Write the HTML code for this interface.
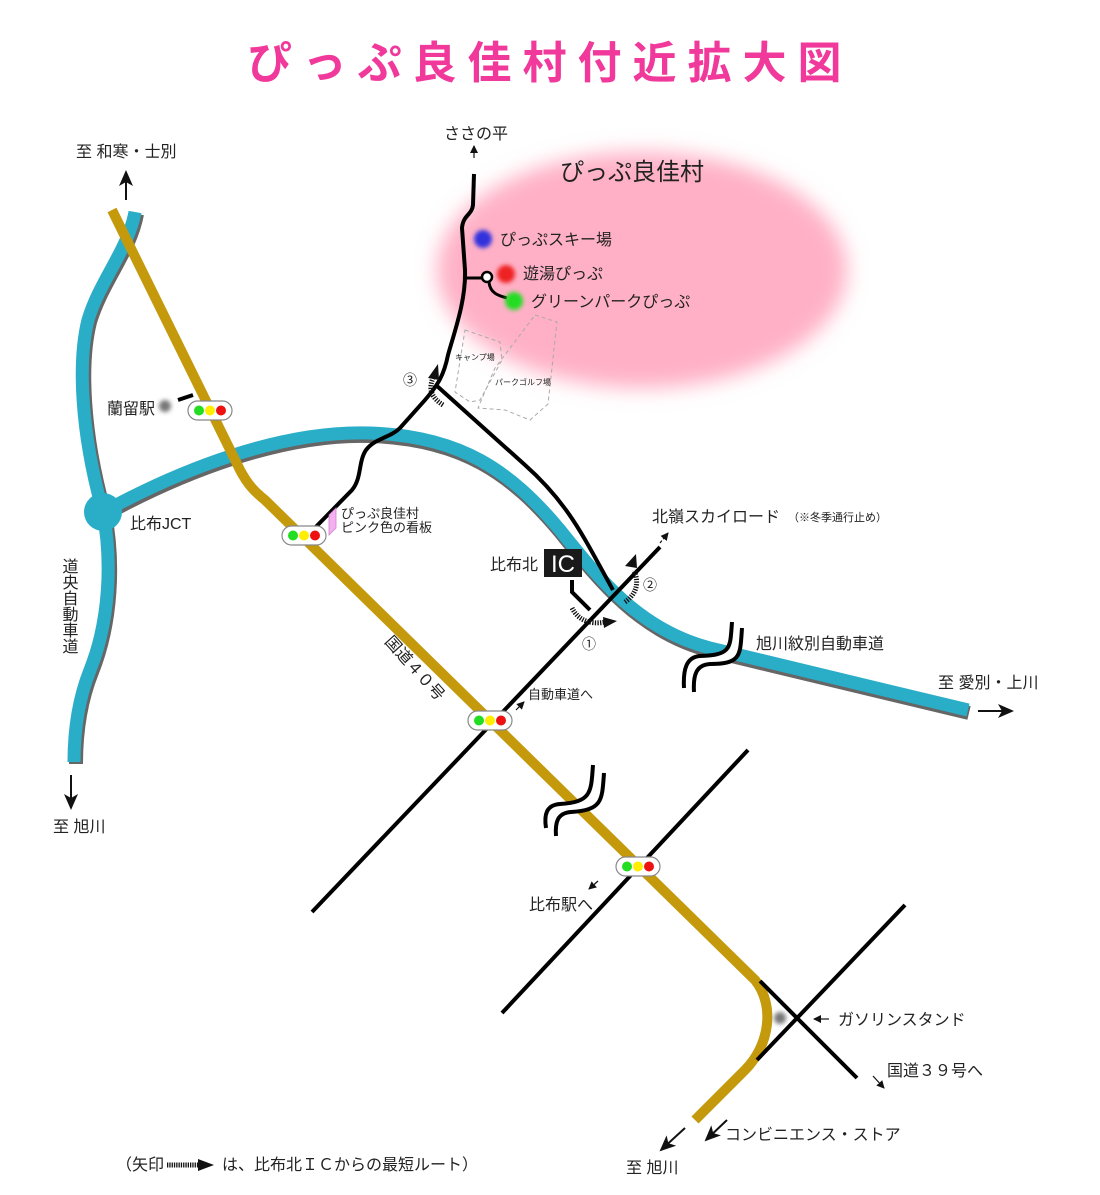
<!DOCTYPE html>
<html><head><meta charset="utf-8"><style>
html,body{margin:0;padding:0;background:#fff}
svg{display:block}
text{font-family:"Liberation Sans","Noto Sans CJK JP",sans-serif;fill:#222}
</style></head><body>
<svg width="1100" height="1195" viewBox="0 0 1100 1195" xmlns="http://www.w3.org/2000/svg">
<defs>
<filter id="blur" x="-30%" y="-30%" width="160%" height="160%"><feGaussianBlur stdDeviation="10"/></filter>
<filter id="b2" x="-50%" y="-50%" width="200%" height="200%"><feGaussianBlur stdDeviation="2"/></filter>
<marker id="ah" markerWidth="8" markerHeight="8" refX="7" refY="4" orient="auto" markerUnits="userSpaceOnUse"><path d="M0,0 L8,4 L0,8 z" fill="#111"/></marker>
<marker id="ahb" markerWidth="16" markerHeight="14" refX="14" refY="7" orient="auto" markerUnits="userSpaceOnUse"><path d="M0,0 L16,7 L0,14 L4,7 z" fill="#111"/></marker>
</defs>

<!-- title -->
<text x="550" y="78" text-anchor="middle" font-size="44" font-weight="bold" letter-spacing="11" style="fill:#f0399a">ぴっぷ良佳村付近拡大図</text>

<!-- pink ellipse -->
<ellipse cx="642" cy="270" rx="205" ry="118" fill="#ffb0c6" filter="url(#blur)"/>
<text x="560" y="180" font-size="24">ぴっぷ良佳村</text>

<!-- dashed areas -->
<path d="M465,330 L500,342 L502,360 L480,400 L470,402 L455,392 Z" fill="none" stroke="#aaa" stroke-dasharray="4,3"/>
<path d="M535,315 L557,322 L548,404 L530,420 L505,410 L478,408 L495,368 Z" fill="none" stroke="#aaa" stroke-dasharray="4,3"/>
<text x="455" y="360" font-size="8">キャンプ場</text>
<text x="495" y="385" font-size="8">パークゴルフ場</text>

<!-- blue expressway shadow + line -->
<g fill="none" stroke-linecap="butt">
<path d="M135,212 C128,250 100,280 88,320 C78,360 80,430 103,512 C112,560 110,620 90,670 C78,700 74,730 74,762" stroke="#666" stroke-width="14" transform="translate(2,2)"/>
<path d="M103,512 C180,470 280,430 370,433 C460,436 510,470 560,530 C600,580 640,630 710,648 L968,710" stroke="#666" stroke-width="14" transform="translate(1,3)"/>
<path d="M135,212 C128,250 100,280 88,320 C78,360 80,430 103,512 C112,560 110,620 90,670 C78,700 74,730 74,762" stroke="#2aaec8" stroke-width="13"/>
<path d="M103,512 C180,470 280,430 370,433 C460,436 510,470 560,530 C600,580 640,630 710,648 L968,710" stroke="#2aaec8" stroke-width="13"/>
</g>
<circle cx="103" cy="512" r="19" fill="#2aaec8"/>

<!-- gold road -->
<path d="M112,210 L240,470 C248,485 255,492 265,500 L755,980 C775,1005 770,1045 745,1070 L695,1120" fill="none" stroke="#c49a0c" stroke-width="10"/>

<!-- black roads -->
<g fill="none" stroke="#000" stroke-width="4" stroke-linecap="butt">
<path d="M474,174 L473,205 C472,215 463,215 462,228 L465,270 C466,300 455,330 448,355 C444,375 438,385 425,400 L400,428 C390,438 375,438 366,450 C358,462 362,478 352,490 L305,538"/>
<path d="M437,386 L525,465 C570,505 585,540 613,590"/>
<path d="M312,912 L660,547"/>
<path d="M502,1013 L748,750"/>
<path d="M757,1060 L905,905"/>
<path d="M760,981 L857,1078"/>
<path d="M572,580 L572,592 L590,610" stroke-width="4"/>
<path d="M466,278 L484,278" stroke-width="3"/>
<path d="M489,282 C490,294 500,296 507,298" stroke-width="3"/>
<path d="M178,400 L193,395" stroke-width="4"/>
</g>
<circle cx="487" cy="277" r="5" fill="#fff" stroke="#000" stroke-width="2.5"/>

<!-- break symbols -->
<g fill="none" stroke-linecap="butt">
<path d="M737,625 C734,650 738,660 705,660 C690,660 689,675 689,688" stroke="#fff" stroke-width="12"/>
<path d="M732,622 C730,648 732,655 700,656 C686,657 683,670 684,688 M742,628 C740,655 742,664 710,664 C696,665 693,675 694,692" stroke="#000" stroke-width="4"/>
<path d="M598,768 C596,795 598,808 565,808 C550,808 550,820 551,832" stroke="#fff" stroke-width="12"/>
<path d="M593,765 C591,792 592,802 560,804 C546,805 544,815 546,828 M604,773 C602,800 603,810 571,812 C557,813 555,823 556,836" stroke="#000" stroke-width="4"/>
</g>

<!-- traffic lights -->
<g stroke="#888" stroke-width="1.2" fill="#fff">
<rect x="188" y="401" width="44" height="19" rx="9.5"/>
<rect x="282" y="526" width="44" height="19" rx="9.5"/>
<rect x="468" y="711" width="44" height="19" rx="9.5"/>
<rect x="616" y="857" width="44" height="19" rx="9.5"/>
</g>
<g>
<circle cx="199" cy="410.5" r="5" fill="#22dd22"/><circle cx="210" cy="410.5" r="5" fill="#ffee00"/><circle cx="221" cy="410.5" r="5" fill="#ee1111"/>
<circle cx="293" cy="535.5" r="5" fill="#22dd22"/><circle cx="304" cy="535.5" r="5" fill="#ffee00"/><circle cx="315" cy="535.5" r="5" fill="#ee1111"/>
<circle cx="479" cy="720.5" r="5" fill="#22dd22"/><circle cx="490" cy="720.5" r="5" fill="#ffee00"/><circle cx="501" cy="720.5" r="5" fill="#ee1111"/>
<circle cx="627" cy="866.5" r="5" fill="#22dd22"/><circle cx="638" cy="866.5" r="5" fill="#ffee00"/><circle cx="649" cy="866.5" r="5" fill="#ee1111"/>
</g>

<!-- blurred dots -->
<circle cx="483" cy="239" r="9" fill="#3333dd" filter="url(#b2)"/>
<circle cx="506" cy="274" r="9" fill="#ee2222" filter="url(#b2)"/>
<circle cx="514" cy="301" r="9" fill="#22dd22" filter="url(#b2)"/>
<circle cx="165" cy="406" r="6" fill="#777" filter="url(#b2)"/>
<circle cx="780" cy="1018" r="6" fill="#777" filter="url(#b2)"/>

<!-- pink sign -->
<path d="M329,515 L336,508 L336,528 L329,535 Z" fill="#f5b0f0" stroke="#d080d0" stroke-width="0.8"/>

<!-- route arrows (hatched) -->
<g fill="none" stroke="#111" stroke-width="5" stroke-dasharray="1.3,1.3">
<path d="M443,405 C432,398 428,390 433,378"/>
<path d="M572,608 C578,620 590,625 605,622"/>
<path d="M625,602 C635,595 640,585 634,570"/>
</g>
<path d="M428,378 L438,364 L439,380 Z" fill="#111"/>
<path d="M603,617 L617,621 L604,628 Z" fill="#111"/>
<path d="M625,566 L636,554 L637,568 Z" fill="#111"/>

<!-- IC box -->
<rect x="544" y="549" width="38" height="28" fill="#1a1a1a"/>
<text x="563" y="572" font-size="24" text-anchor="middle" style="fill:#fff">IC</text>

<!-- small arrows -->
<g stroke="#111" stroke-width="1.2" fill="none">
<line x1="474" y1="158" x2="474" y2="146" marker-end="url(#ah)"/>
<line x1="126" y1="200" x2="126" y2="172" stroke-width="2" marker-end="url(#ahb)"/>
<line x1="71" y1="775" x2="71" y2="808" stroke-width="2" marker-end="url(#ahb)"/>
<line x1="978" y1="711" x2="1012" y2="711" stroke-width="2" marker-end="url(#ahb)"/>
<line x1="516" y1="710" x2="524" y2="702" marker-end="url(#ah)"/>
<line x1="660" y1="543" x2="668" y2="533" stroke-dasharray="3,2" marker-end="url(#ah)"/>
<line x1="598" y1="881" x2="589" y2="889" marker-end="url(#ah)"/>
<line x1="829" y1="1019" x2="814" y2="1019" marker-end="url(#ah)"/>
<line x1="873" y1="1076" x2="884" y2="1088" marker-end="url(#ah)"/>
<line x1="685" y1="1128" x2="661" y2="1150" stroke-width="2" marker-end="url(#ahb)"/>
<line x1="727" y1="1120" x2="706" y2="1140" stroke-width="2" marker-end="url(#ahb)"/>
</g>

<!-- labels -->
<g font-size="16">
<text x="444" y="139">ささの平</text>
<text x="76" y="157">至 和寒・士別</text>
<text x="500" y="245">ぴっぷスキー場</text>
<text x="523" y="279">遊湯ぴっぷ</text>
<text x="531" y="307">グリーンパークぴっぷ</text>
<text x="107" y="414">蘭留駅</text>
<text x="130" y="529">比布JCT</text>
<text x="341" y="518" font-size="13">ぴっぷ良佳村</text>
<text x="341" y="532" font-size="13">ピンク色の看板</text>
<text x="652" y="522">北嶺スカイロード</text>
<text x="788" y="521" font-size="11">（※冬季通行止め）</text>
<text x="490" y="570">比布北</text>
<text x="756" y="649">旭川紋別自動車道</text>
<text x="938" y="688">至 愛別・上川</text>
<text x="528" y="699" font-size="13">自動車道へ</text>
<text x="53" y="832">至 旭川</text>
<text x="529" y="910">比布駅へ</text>
<text x="838" y="1025">ガソリンスタンド</text>
<text x="887" y="1076">国道３９号へ</text>
<text x="725" y="1140">コンビニエンス・ストア</text>
<text x="626" y="1173">至 旭川</text>
<text x="116" y="1170">（矢印</text>
<text x="222" y="1170">は、比布北ＩＣからの最短ルート）</text>
<text x="403" y="385" font-size="14">③</text>
<text x="582" y="649" font-size="14">①</text>
<text x="643" y="590" font-size="14">②</text>
</g>
<text font-size="16" writing-mode="tb" x="68" y="558" letter-spacing="0">道央自動車道</text>
<text font-size="16" transform="translate(384,642) rotate(48)">国道４０号</text>
<line x1="167" y1="1165" x2="200" y2="1165" stroke="#111" stroke-width="5" stroke-dasharray="1.3,1"/>
<path d="M198,1159 L214,1165 L198,1171 Z" fill="#111"/>
</svg>
</body></html>
